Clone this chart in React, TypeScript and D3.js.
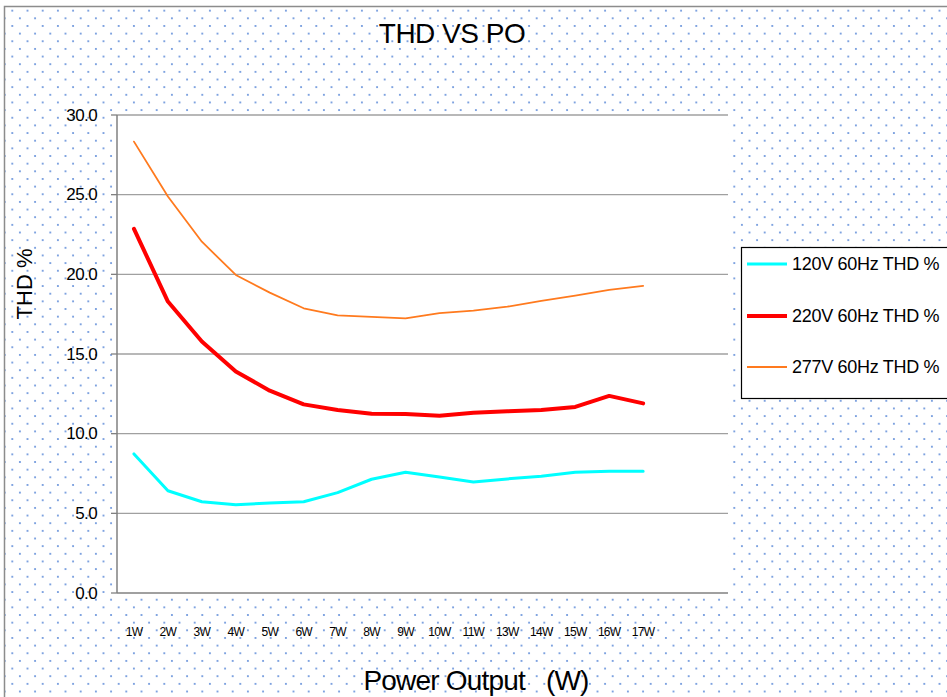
import React from "react";
import * as d3 from "d3";

// categories on the x axis (12W is absent in the source)
const categories = ["1W", "2W", "3W", "4W", "5W", "6W", "7W", "8W", "9W", "10W", "11W", "13W", "14W", "15W", "16W", "17W"];

const thd120 = [8.73, 6.42, 5.73, 5.54, 5.65, 5.73, 6.3, 7.14, 7.58, 7.28, 6.97, 7.16, 7.33, 7.58, 7.64, 7.64];
const thd220 = [22.85, 18.29, 15.78, 13.9, 12.7, 11.84, 11.49, 11.25, 11.24, 11.13, 11.32, 11.4, 11.49, 11.68, 12.37, 11.9];
const thd277 = [28.33, 24.88, 22.05, 19.96, 18.85, 17.87, 17.43, 17.33, 17.24, 17.56, 17.72, 17.97, 18.33, 18.66, 19.02, 19.27];

const yTicks = [0, 5, 10, 15, 20, 25, 30];

const seriesNames = ["120V 60Hz THD %", "220V 60Hz THD %", "277V 60Hz THD %"];

const W = 947;
const H = 697;
const plot = { left: 117, right: 728, top: 115, bottom: 593 };
const font = "'Liberation Sans', Arial, sans-serif";
const dotColor = "#5f8cd8";

export default function App() {
  // two empty slots at the end, like the original sheet
  const slots = d3.range(categories.length + 2);
  const x = d3.scaleBand<number>().domain(slots).range([plot.left, plot.right]);
  const cx = (i: number) => (x(i) as number) + x.bandwidth() / 2;
  const y = d3.scaleLinear().domain([0, 30]).range([plot.bottom, plot.top]);

  const line = d3
    .line<number>()
    .x((_, i) => cx(i))
    .y(d => y(d));

  const series = [
    { name: seriesNames[0], values: thd120, color: "#00ffff", width: 3 },
    { name: seriesNames[1], values: thd220, color: "#ff0000", width: 4 },
    { name: seriesNames[2], values: thd277, color: "#ff7a1e", width: 1.8 }
  ];

  const legendY = [264, 316, 367];

  return (
    <svg
      width={W}
      height={H}
      style={{ position: "absolute", left: 0, top: 0, background: "#fff" }}
      fontFamily={font}
    >
      <defs>
        <pattern id="dots" patternUnits="userSpaceOnUse" width={15.2} height={15.3} x={4.7} y={3}>
          <circle cx={7.6} cy={7.65} r={1.05} fill={dotColor} />
          <circle cx={0} cy={0} r={1.05} fill={dotColor} />
          <circle cx={15.2} cy={0} r={1.05} fill={dotColor} />
          <circle cx={0} cy={15.3} r={1.05} fill={dotColor} />
          <circle cx={15.2} cy={15.3} r={1.05} fill={dotColor} />
        </pattern>
      </defs>

      {/* chart area */}
      <rect x={0} y={0} width={W} height={H} fill="#fff" />
      <rect x={4.5} y={6.5} width={W + 10} height={H + 10} fill="url(#dots)" stroke="#8c8c8c" strokeWidth={1.5} />

      {/* plot area */}
      <rect x={plot.left} y={plot.top} width={plot.right - plot.left} height={plot.bottom - plot.top} fill="#fff" />

      {yTicks.map(t => (
        <g key={t}>
          {t > 0 && (
            <line x1={plot.left} x2={plot.right} y1={y(t)} y2={y(t)} stroke="#a0a0a0" strokeWidth={1.3} />
          )}
          <line x1={plot.left - 6} x2={plot.left} y1={y(t)} y2={y(t)} stroke="#808080" strokeWidth={1.3} />
          <text x={97} y={y(t)} textAnchor="end" dominantBaseline="central" fontSize={17} letterSpacing={-0.6} fill="#000">
            {t.toFixed(1)}
          </text>
        </g>
      ))}

      <line x1={plot.left} x2={plot.left} y1={plot.top} y2={plot.bottom} stroke="#808080" strokeWidth={1.5} />
      <line x1={plot.left} x2={plot.right} y1={plot.bottom} y2={plot.bottom} stroke="#808080" strokeWidth={1.5} />

      {categories.map((c, i) => (
        <text key={c} x={cx(i)} y={636} textAnchor="middle" fontSize={12} letterSpacing={-0.7} fill="#000">
          {c}
        </text>
      ))}

      {series.map(s => (
        <path
          key={s.name}
          d={line(s.values) as string}
          fill="none"
          stroke={s.color}
          strokeWidth={s.width}
          strokeLinejoin="round"
          strokeLinecap="round"
        />
      ))}

      {/* titles */}
      <text x={452} y={43} textAnchor="middle" fontSize={28} letterSpacing={-0.5} fill="#000">
        THD VS PO
      </text>
      <text x={476} y={690} textAnchor="middle" fontSize={28} letterSpacing={-0.8} fill="#000" style={{ whiteSpace: "pre" }}>
        {"Power Output   (W)"}
      </text>
      <text
        transform="translate(32,284) rotate(-90)"
        textAnchor="middle"
        fontSize={22}
        fill="#000"
      >
        THD %
      </text>

      {/* legend */}
      <rect x={741.5} y={247.5} width={220} height={151} fill="#fff" stroke="#000" strokeWidth={1.2} />
      {series.map((s, i) => (
        <g key={s.name}>
          <line x1={747} x2={787} y1={legendY[i]} y2={legendY[i]} stroke={s.color} strokeWidth={s.width} />
          <text x={792} y={legendY[i]} dominantBaseline="central" fontSize={18} letterSpacing={-0.3} fill="#000">
            {s.name}
          </text>
        </g>
      ))}
    </svg>
  );
}
